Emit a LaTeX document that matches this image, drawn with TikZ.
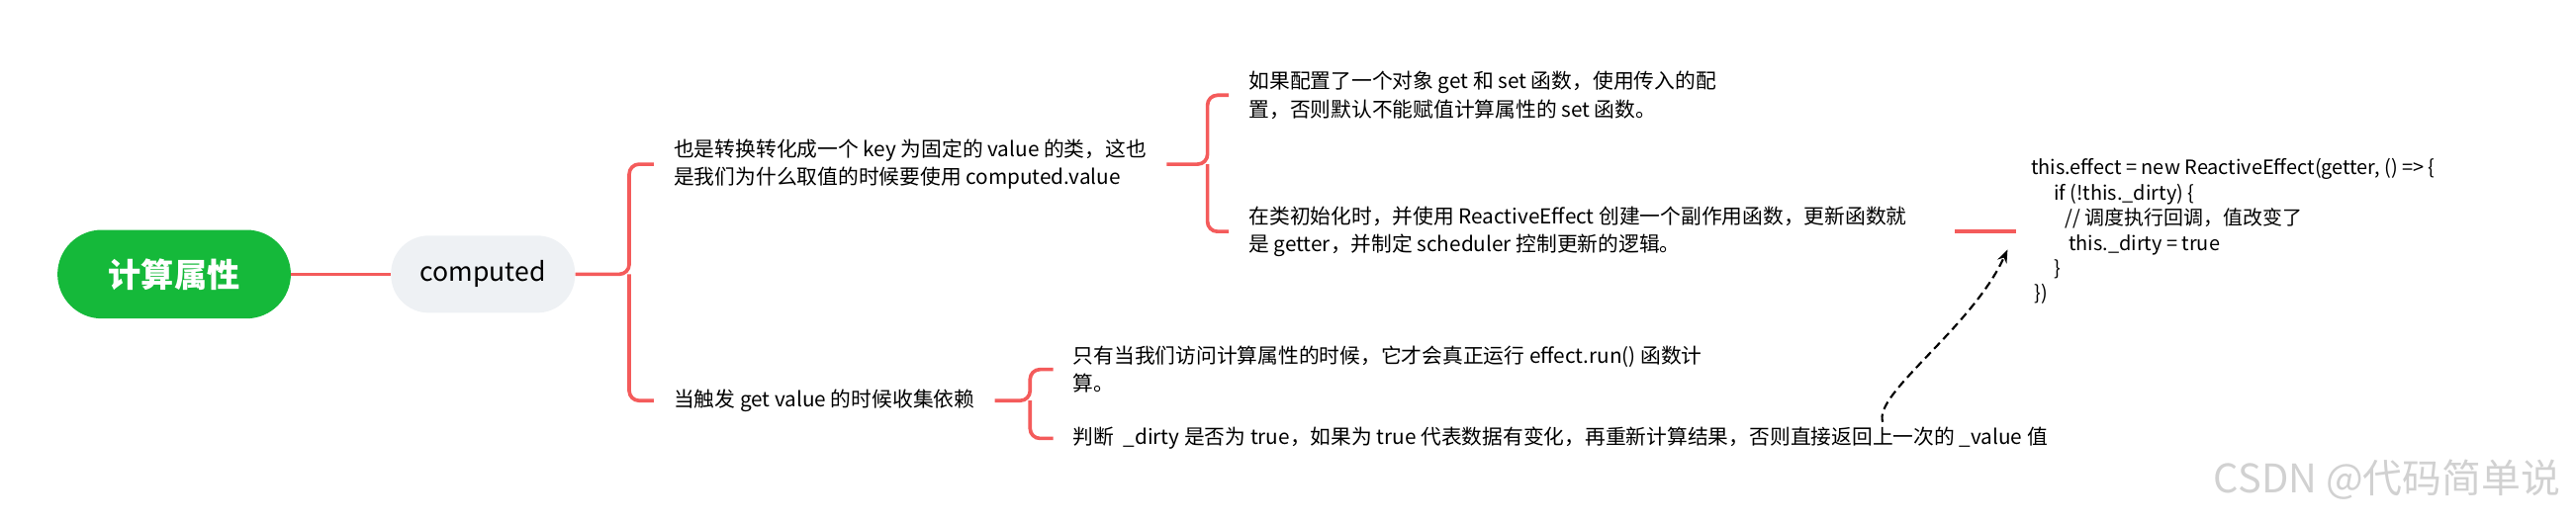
\documentclass[tikz,border=0pt]{standalone}
\usepackage{fontspec}
\setmainfont{Noto Sans CJK SC}
\usetikzlibrary{arrows.meta}
\definecolor{mmred}{HTML}{F45B5B}
\definecolor{mmgreen}{HTML}{15B93A}
\definecolor{mmgray}{HTML}{EEF1F4}
\tikzset{
  edge/.style={draw=mmred, line width=2.2pt, rounded corners=6pt},
  leaf/.style={anchor=west, align=left, inner xsep=12pt, inner ysep=0pt,
    font=\fontsize{12.5}{17}\selectfont},
}
\begin{document}
\begin{tikzpicture}[x=1pt,y=-1pt]
  \useasboundingbox (0,0) rectangle (1568,319);
  % root and main topic
  \node[fill=mmgreen, text=white, rounded corners=27pt, minimum width=142pt,
        minimum height=54pt, font=\fontsize{20}{20}\selectfont\bfseries] (root) at (106,167) {计算属性};
  \node[fill=mmgray, rounded corners=23pt, minimum width=112pt, minimum height=47pt,
        font=\fontsize{16}{16}\selectfont] (comp) at (294,167) {computed};
  \draw[edge] (root) -- (comp);

  % first level
  \node[leaf] (cls) at (398,100) {也是转换转化成一个 key 为固定的 value 的类，这也\\是我们为什么取值的时候要使用 computed.value};
  \node[leaf] (dep) at (398,244) {当触发 get value 的时候收集依赖};
  \coordinate (jc) at (383,167);
  \draw[edge] (comp.east) -- (jc) |- (cls.west);
  \draw[edge] (jc) |- (dep.west);

  % under cls
  \node[leaf] (opt) at (748,58) {如果配置了一个对象 get 和 set 函数，使用传入的配\\置，否则默认不能赋值计算属性的 set 函数。};
  \node[leaf] (eff) at (748,141) {在类初始化时，并使用 ReactiveEffect 创建一个副作用函数，更新函数就\\是 getter，并制定 scheduler 控制更新的逻辑。};
  \coordinate (j1) at (735,100);
  \draw[edge] (cls.east) -- (j1) |- (opt.west);
  \draw[edge] (j1) |- (eff.west);

  % under dep
  \node[leaf] (run) at (641,225) {只有当我们访问计算属性的时候，它才会真正运行 effect.run() 函数计\\算。};
  \node[leaf] (dirty) at (641,267) {判断 \ \_dirty 是否为 true，如果为 true 代表数据有变化，再重新计算结果，否则直接返回上一次的 \_value 值};
  \coordinate (j2) at (627,244);
  \draw[edge] (dep.east) -- (j2) |- (run.west);
  \draw[edge] (j2) |- (dirty.west);

  % code snippet
  \node[leaf, inner xsep=0pt, font=\fontsize{12}{15.3}\selectfont] (code) at (1236,141) {this.effect = new ReactiveEffect(getter, () => \{\\
    \hspace*{14pt}if (!this.\_dirty) \{\\
    \hspace*{21pt}// 调度执行回调，值改变了\\
    \hspace*{23pt}this.\_dirty = true\\
    \hspace*{14pt}\}\\
    \hspace*{2pt}\})};
  \coordinate (cs) at (1190,141);
  \draw[edge] (cs) -- (1227,141);

  % dashed link
  \coordinate (da) at (1146,257);
  \coordinate (db) at (1222,152);
  \draw[dash pattern=on 5pt off 3pt, line width=1.3pt, -{Stealth[length=8pt]}] (da) .. controls (1140,240) and (1200,200) .. (db);

  % watermark
  \node[anchor=east, text=black!18, font=\fontsize{24}{24}\selectfont] (mark) at (1562,292) {CSDN @代码简单说};
\end{tikzpicture}
\end{document}
